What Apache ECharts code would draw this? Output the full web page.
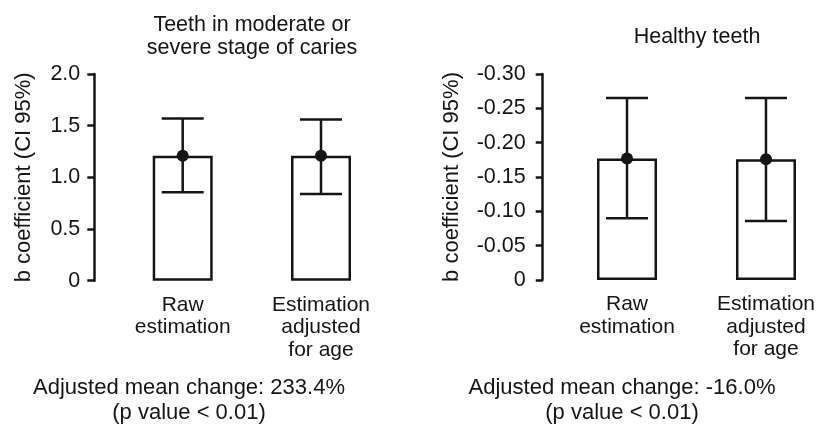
<!DOCTYPE html>
<html><head><meta charset="utf-8">
<script src="https://cdn.jsdelivr.net/npm/echarts@6/dist/echarts.min.js"></script>
<style>html,body{margin:0;padding:0;background:#fff}#c{width:818px;height:430px}</style>
</head><body><div id="c"></div>
<script>
const categories = ['Raw\nestimation', 'Estimation\nadjusted\nfor age'];
const cariesB = [1.21, 1.21];
const cariesLower = [0.855, 0.838];
const cariesUpper = [1.57, 1.56];
const healthyB = [-0.177, -0.176];
const healthyLower = [-0.090, -0.086];
const healthyUpper = [-0.265, -0.265];
const cariesTicks = ['0', '0.5', '1.0', '1.5', '2.0'];
const healthyTicks = ['0', '-0.05', '-0.10', '-0.15', '-0.20', '-0.25', '-0.30'];
const titles = ['Teeth in moderate or\nsevere stage of caries', 'Healthy teeth'];
const notes = ['Adjusted mean change: 233.4%\n(p value < 0.01)', 'Adjusted mean change: -16.0%\n(p value < 0.01)'];
const yName = 'b coefficient (CI 95%)';

const INK = '#151515';
const FONT = "'Liberation Sans', Arial, sans-serif";
const LW = 2.5;

function errRender(params, api) {
  const x = api.value(0);
  const lo = api.coord([x, api.value(1)]);
  const hi = api.coord([x, api.value(2)]);
  const hw = 21;
  const style = { stroke: INK, lineWidth: LW, fill: null };
  return { type: 'group', children: [
    { type: 'line', shape: { x1: lo[0], y1: lo[1], x2: hi[0], y2: hi[1] }, style: style },
    { type: 'line', shape: { x1: lo[0] - hw, y1: lo[1], x2: lo[0] + hw, y2: lo[1] }, style: style },
    { type: 'line', shape: { x1: hi[0] - hw, y1: hi[1], x2: hi[0] + hw, y2: hi[1] }, style: style }
  ]};
}

function xAxisCfg(gi) {
  return {
    type: 'category', gridIndex: gi, data: categories, boundaryGap: false,
    axisLine: { show: false }, axisTick: { show: false },
    axisLabel: { color: INK, fontFamily: FONT, fontSize: 21, lineHeight: 22.5, margin: 13, interval: 0 }
  };
}
function yAxisCfg(gi, opts) {
  return Object.assign({
    type: 'value', gridIndex: gi, splitLine: { show: false },
    axisLine: { show: true, lineStyle: { color: INK, width: LW } },
    axisTick: { show: true, length: 7, lineStyle: { color: INK, width: LW } },
    name: yName, nameLocation: 'middle', nameRotate: 90,
    nameTextStyle: { color: INK, fontFamily: FONT, fontSize: 22 }
  }, opts);
}

const chart = echarts.init(document.getElementById('c'), null, { renderer: 'canvas' });
chart.setOption({
  backgroundColor: '#fff',
  animation: false,
  grid: [
    { left: 182.7, top: 74, width: 138.3, height: 206.7 },
    { left: 627, top: 74, width: 139, height: 206 }
  ],
  xAxis: [xAxisCfg(0), xAxisCfg(1)],
  yAxis: [
    yAxisCfg(0, { min: 0, max: 2, interval: 0.5, offset: 88.4, nameGap: 59,
      axisLabel: { color: INK, fontFamily: FONT, fontSize: 21.5, margin: 14,
        formatter: v => cariesTicks[Math.round(v / 0.5)] } }),
    yAxisCfg(1, { min: -0.3, max: 0, interval: 0.05, inverse: true, offset: 84.3, nameGap: 80,
      axisLabel: { color: INK, fontFamily: FONT, fontSize: 21.5, margin: 17,
        formatter: v => healthyTicks[Math.round(-v / 0.05)] } })
  ],
  graphic: [
    { type: 'text', x: 252, y: 14, style: { text: titles[0], fill: INK, font: '21.5px ' + FONT, textAlign: 'center', textVerticalAlign: 'top', lineHeight: 23 } },
    { type: 'text', x: 697, y: 26, style: { text: titles[1], fill: INK, font: '21.5px ' + FONT, textAlign: 'center', textVerticalAlign: 'top', lineHeight: 23 } },
    { type: 'text', x: 189, y: 376, style: { text: notes[0], fill: INK, font: '22px ' + FONT, textAlign: 'center', textVerticalAlign: 'top', lineHeight: 24.5 } },
    { type: 'text', x: 622, y: 376, style: { text: notes[1], fill: INK, font: '22px ' + FONT, textAlign: 'center', textVerticalAlign: 'top', lineHeight: 24.5 } }
  ],
  series: [
    { type: 'bar', xAxisIndex: 0, yAxisIndex: 0, data: cariesB, barWidth: 60, z: 2, clip: false,
      itemStyle: { color: '#fff', borderColor: INK, borderWidth: LW } },
    { type: 'custom', xAxisIndex: 0, yAxisIndex: 0, renderItem: errRender, z: 3, clip: false,
      encode: { x: 0, y: [1, 2] }, data: categories.map((c, i) => [i, cariesLower[i], cariesUpper[i]]) },
    { type: 'scatter', xAxisIndex: 0, yAxisIndex: 0, data: cariesB, symbolSize: 12, z: 4, clip: false,
      itemStyle: { color: INK, opacity: 1 } },
    { type: 'bar', xAxisIndex: 1, yAxisIndex: 1, data: healthyB, barWidth: 60, z: 2, clip: false,
      itemStyle: { color: '#fff', borderColor: INK, borderWidth: LW } },
    { type: 'custom', xAxisIndex: 1, yAxisIndex: 1, renderItem: errRender, z: 3, clip: false,
      encode: { x: 0, y: [1, 2] }, data: categories.map((c, i) => [i, healthyLower[i], healthyUpper[i]]) },
    { type: 'scatter', xAxisIndex: 1, yAxisIndex: 1, data: healthyB, symbolSize: 12, z: 4, clip: false,
      itemStyle: { color: INK, opacity: 1 } }
  ]
});
</script>
</body></html>
